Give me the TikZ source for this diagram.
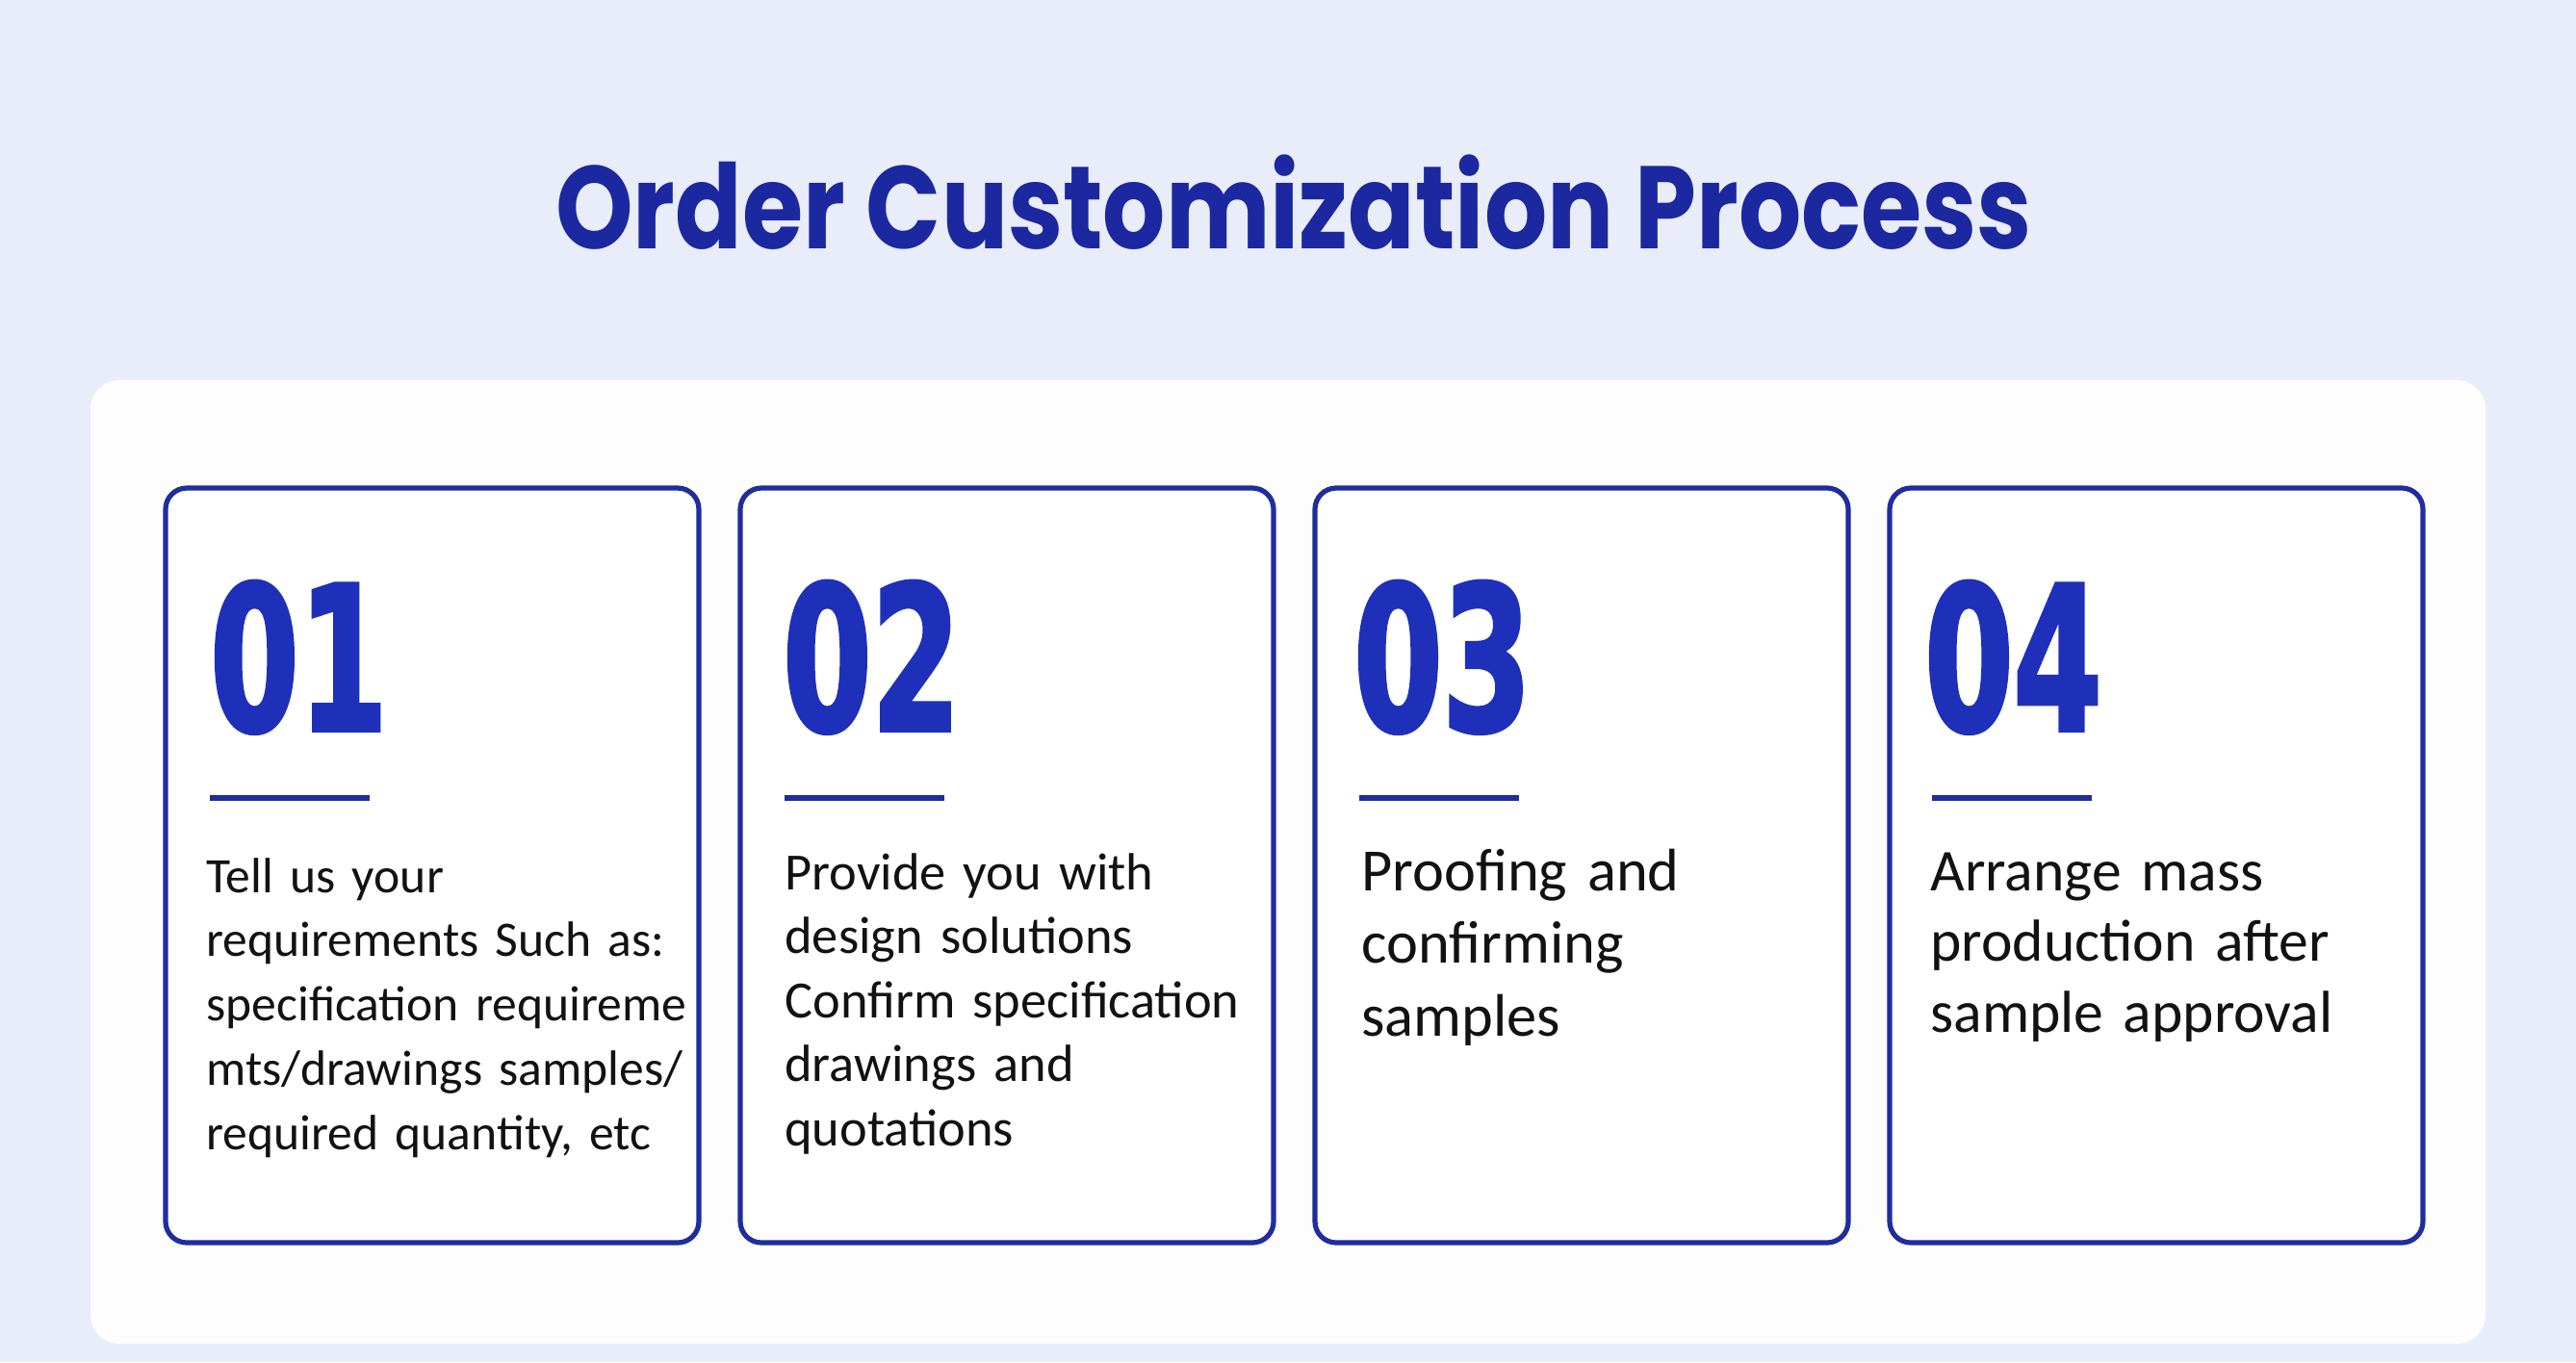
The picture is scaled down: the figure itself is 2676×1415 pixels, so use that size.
\documentclass[tikz,border=0pt]{standalone}
\usepackage{fontspec}
\usepackage{xcolor}
\usepackage{tikz}
\usetikzlibrary{positioning}
\setmainfont{Carlito}
\newfontfamily\titlefont{Poppins}
\newfontfamily\numfont{DejaVu Sans}[FakeStretch=0.63,FakeBold=1.8]
\definecolor{pagebg}{RGB}{233,237,250}
\definecolor{panelwhite}{RGB}{253,253,253}
\definecolor{titleblue}{RGB}{27,40,160}
\definecolor{numblue}{RGB}{30,48,186}
\definecolor{cardblue}{RGB}{33,44,158}
\definecolor{bodyblack}{RGB}{18,18,18}

\begin{document}
\begin{tikzpicture}[
  x = 0.5pt, y = -0.5pt,
  node distance = 0cm and 21.5pt,
  panel/.style = {rectangle, rounded corners=15pt, fill=panelwhite, inner sep=0pt,
                  minimum width=1244pt, minimum height=500.5pt},
  card/.style  = {rectangle, rounded corners=11pt, draw=cardblue, line width=2.6pt,
                  fill=white, outer sep=0pt, minimum width=277pt, minimum height=392pt},
  num/.style   = {font=\numfont\bfseries\fontsize{105}{105}\selectfont, text=numblue,
                  inner sep=0pt, anchor=north west},
  rule/.style  = {draw=cardblue, line width=3pt},
  body/.style  = {text=bodyblack, align=left, text width=300pt, inner sep=0pt,
                  anchor=base west},
  title/.style = {font=\titlefont\bfseries\fontsize{61}{61}\selectfont, text=titleblue,
                  inner sep=0pt, anchor=base}
]

\fill[pagebg] (0,0) rectangle (2676,1415);

\node[title] (title) at (1344,258) {\scalebox{0.84}[1]{Order Customization Process}};

\node[panel] (panel) at (1338,895.5) {};

\node[card, anchor=north west] (c1) at (172,507) {};
\node[card, right=of c1] (c2) {};
\node[card, right=of c2] (c3) {};
\node[card, right=of c3] (c4) {};

\node[num] (n1) at ([xshift=23pt,yshift=-48pt]c1.north west) {01};
\node[num] (n2) at ([xshift=22pt,yshift=-48pt]c2.north west) {02};
\node[num] (n3) at ([xshift=20pt,yshift=-48pt]c3.north west) {03};
\node[num] (n4) at ([xshift=18pt,yshift=-48pt]c4.north west) {04};

\draw[rule] ([xshift=23pt,yshift=-161pt]c1.north west) -- ++(166,0);
\draw[rule] ([xshift=23pt,yshift=-161pt]c2.north west) -- ++(166,0);
\draw[rule] ([xshift=23pt,yshift=-161pt]c3.north west) -- ++(166,0);
\draw[rule] ([xshift=22pt,yshift=-161pt]c4.north west) -- ++(166,0);

\node[body, font=\fontsize{25.8}{33.4}\selectfont] (t1) at ([xshift=21pt,yshift=-210pt]c1.north west)
  {Tell us your\\requirements Such as:\\specification requireme\\mts/drawings samples/\\required quantity, etc};
\node[body, font=\fontsize{27.2}{33.3}\selectfont] (t2) at ([xshift=23pt,yshift=-208.5pt]c2.north west)
  {Provide you with\\design solutions\\Confirm specification\\drawings and\\quotations};
\node[body, font=\fontsize{31.2}{37.8}\selectfont] (t3) at ([xshift=24pt,yshift=-209pt]c3.north west)
  {Proofing and\\confirming\\samples};
\node[body, font=\fontsize{30.8}{36.8}\selectfont] (t4) at ([xshift=21pt,yshift=-209pt]c4.north west)
  {Arrange mass\\production after\\sample approval};

\end{tikzpicture}
\end{document}
